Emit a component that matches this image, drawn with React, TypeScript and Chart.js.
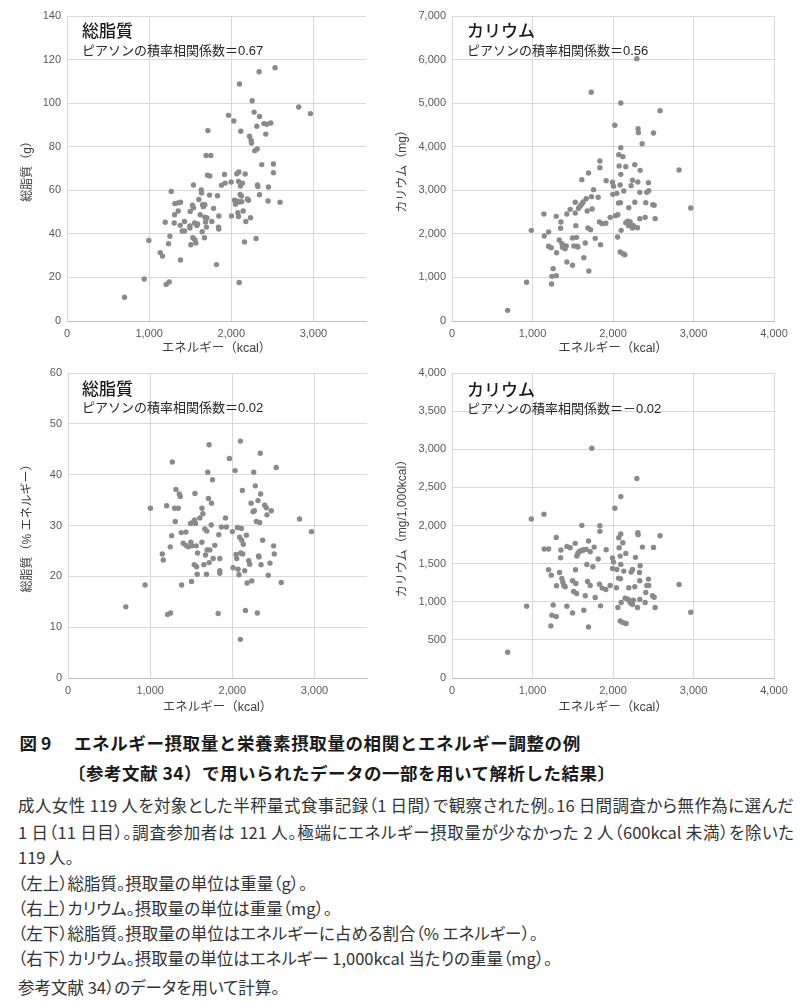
import React, { useEffect, useRef } from "react";
import { Chart, registerables } from "chart.js";

Chart.register(...registerables);

// ---------- data (energy kcal, value) ----------
const fatGrams: [number, number][] = [
  [700, 10.9], [940, 19.3], [997, 37.0], [1135, 31.4], [1163, 29.8], [1196, 45.3], [1207, 16.8], [1244, 17.9],
  [1236, 35.5], [1253, 38.9], [1269, 59.5], [1305, 45.0], [1309, 48.8], [1313, 53.9], [1350, 54.2], [1382, 54.5],
  [1354, 50.5], [1378, 43.9], [1382, 28.0], [1403, 41.3], [1431, 41.3], [1431, 45.7], [1496, 43.6], [1496, 42.7],
  [1500, 50.3], [1508, 35.0], [1528, 53.1], [1540, 62.4], [1540, 52.0], [1532, 38.2], [1557, 37.3], [1569, 35.8],
  [1553, 45.0], [1581, 43.8], [1590, 44.5], [1605, 55.8], [1634, 60.1], [1638, 58.8], [1621, 48.8], [1646, 41.0],
  [1650, 53.4], [1660, 52.5], [1678, 53.4], [1674, 38.2], [1678, 47.6], [1686, 45.4], [1698, 43.1], [1703, 47.3],
  [1694, 76.0], [1715, 87.4], [1711, 66.9], [1739, 66.6], [1751, 76.0], [1735, 57.8], [1763, 45.7], [1784, 51.7],
  [1820, 25.9], [1832, 57.5], [1844, 43.1], [1848, 42.2], [1848, 48.2], [1881, 62.3], [1917, 67.3], [1925, 63.3],
  [1966, 94.4], [1998, 63.8], [2002, 48.2], [2031, 91.8], [2039, 55.4], [2051, 53.6], [2067, 67.6], [2075, 55.0],
  [2080, 49.7], [2088, 48.0], [2092, 68.4], [2088, 64.1], [2096, 17.7], [2100, 108.8], [2100, 54.6], [2108, 58.1],
  [2116, 87.1], [2112, 62.0], [2124, 57.4], [2128, 54.8], [2136, 63.3], [2145, 50.5], [2161, 36.3], [2169, 67.5],
  [2177, 45.7], [2197, 56.0], [2209, 55.4], [2222, 84.8], [2234, 47.4], [2242, 82.9], [2246, 81.7], [2254, 101.1],
  [2278, 95.9], [2286, 78.2], [2302, 37.9], [2315, 79.0], [2311, 89.4], [2319, 62.4], [2323, 61.7], [2339, 114.4],
  [2343, 93.9], [2343, 58.0], [2371, 71.8], [2396, 90.6], [2420, 85.8], [2432, 90.3], [2453, 61.5], [2448, 55.1],
  [2481, 90.9], [2513, 72.1], [2513, 68.1], [2533, 116.3], [2594, 54.5], [2821, 98.2], [2963, 95.2],
];

const potassiumMg: [number, number][] = [
  [691, 245], [927, 888], [985, 2081], [1142, 2456], [1146, 1951], [1200, 2043], [1200, 1714], [1233, 1683],
  [1237, 849], [1241, 1025], [1257, 1201], [1295, 1041], [1295, 2402], [1299, 1568], [1353, 2272], [1349, 2127],
  [1332, 1859], [1365, 1775], [1373, 1691], [1390, 1721], [1406, 1660], [1420, 1720], [1427, 2456], [1427, 1354],
  [1468, 2563], [1497, 1278], [1497, 1905], [1514, 1721], [1531, 2724], [1539, 2188], [1531, 2479], [1547, 1920],
  [1555, 1714], [1564, 1698], [1572, 2586], [1593, 2640], [1613, 2686], [1630, 2731], [1613, 3244], [1638, 1454],
  [1655, 1790], [1680, 2525], [1688, 2135], [1667, 2808], [1696, 3397], [1700, 1148], [1729, 5249], [1721, 2096],
  [1733, 2854], [1741, 2571], [1758, 3015], [1779, 1897], [1816, 2839], [1832, 2272], [1837, 3673], [1837, 3519],
  [1845, 1752], [1866, 2234], [1911, 2242], [1915, 3221], [1965, 2379], [1994, 3183], [1998, 2907], [2006, 3091],
  [2023, 4491], [2031, 2418], [2056, 1928], [2048, 2930], [2060, 2440], [2072, 3818], [2076, 3558], [2068, 2708],
  [2089, 3122], [2093, 2716], [2089, 1584], [2097, 5004], [2097, 3979], [2097, 3366], [2101, 2081], [2122, 3772],
  [2126, 1546], [2134, 2984], [2147, 1523], [2159, 3542], [2159, 2257], [2180, 2250], [2184, 2288], [2196, 2601],
  [2192, 2188], [2213, 2272], [2225, 3106], [2242, 3229], [2242, 2135], [2254, 2188], [2271, 3588], [2271, 2724],
  [2296, 6021], [2304, 2142], [2308, 3190], [2312, 4415], [2316, 4323], [2333, 2953], [2333, 2349], [2337, 3458],
  [2362, 4070], [2399, 2379], [2407, 2716], [2420, 2953], [2440, 3175], [2444, 2992], [2494, 2670], [2503, 4315],
  [2511, 2655], [2523, 2349], [2585, 4828], [2821, 3466], [2966, 2594],
];

const fatPercentEnergy: [number, number][] = [
  [704, 14.0], [938, 18.3], [1003, 33.4], [1148, 24.4], [1160, 23.2], [1201, 33.9], [1213, 12.5], [1249, 12.8],
  [1245, 25.8], [1262, 28.0], [1270, 42.5], [1298, 33.4], [1306, 30.8], [1314, 37.1], [1342, 33.4], [1355, 36.2],
  [1367, 35.7], [1379, 28.6], [1383, 18.3], [1403, 26.5], [1436, 28.7], [1436, 26.1], [1464, 25.8], [1492, 30.4],
  [1496, 26.7], [1504, 19.0], [1508, 26.0], [1524, 30.7], [1541, 31.1], [1545, 36.3], [1537, 22.3], [1553, 30.4],
  [1561, 26.0], [1565, 21.9], [1573, 20.4], [1577, 24.6], [1605, 31.5], [1630, 33.4], [1630, 26.7], [1642, 32.3],
  [1654, 22.3], [1666, 29.3], [1674, 24.2], [1686, 20.4], [1690, 28.9], [1694, 25.2], [1702, 40.5], [1710, 35.3],
  [1718, 45.9], [1718, 22.7], [1727, 25.2], [1743, 30.1], [1747, 34.4], [1759, 39.0], [1767, 23.5], [1787, 26.1],
  [1828, 12.7], [1836, 28.2], [1848, 23.5], [1848, 21.1], [1848, 20.6], [1868, 29.7], [1917, 31.5], [1929, 29.7],
  [1965, 43.2], [2002, 28.8], [2010, 21.7], [2034, 40.8], [2046, 24.3], [2054, 23.5], [2062, 29.6], [2070, 21.4],
  [2082, 20.3], [2090, 27.7], [2099, 46.6], [2099, 7.6], [2103, 24.6], [2111, 29.4], [2115, 27.1], [2123, 36.9],
  [2127, 24.4], [2135, 26.3], [2151, 21.1], [2160, 13.3], [2172, 28.1], [2180, 18.7], [2200, 23.1], [2212, 22.4],
  [2229, 34.4], [2237, 19.1], [2253, 32.7], [2261, 40.5], [2269, 32.9], [2281, 37.8], [2293, 30.8], [2305, 12.8],
  [2313, 34.9], [2321, 24.0], [2325, 23.8], [2334, 30.6], [2341, 44.2], [2345, 36.2], [2350, 22.3], [2370, 27.1],
  [2394, 34.0], [2414, 33.5], [2422, 32.1], [2438, 20.2], [2459, 22.6], [2475, 32.9], [2503, 26.0], [2511, 24.4],
  [2535, 41.4], [2596, 18.8], [2818, 31.3], [2964, 28.8],
];

const potassiumPer1000: [number, number][] = [
  [691, 337], [927, 942], [985, 2085], [1142, 2147], [1146, 1691], [1200, 1691], [1200, 1420], [1233, 1349],
  [1228, 683], [1241, 824], [1257, 959], [1295, 806], [1295, 1844], [1299, 1209], [1353, 1678], [1349, 1577],
  [1336, 1384], [1365, 1306], [1377, 1257], [1390, 1214], [1406, 1196], [1427, 1726], [1427, 942], [1468, 1709],
  [1497, 854], [1497, 1275], [1510, 1135], [1531, 1766], [1539, 1240], [1535, 1420], [1547, 1108], [1551, 1599],
  [1564, 1634], [1580, 1660], [1605, 1669], [1621, 1678], [1638, 1678], [1613, 2002], [1638, 889], [1655, 1078],
  [1675, 1490], [1684, 1266], [1667, 1687], [1696, 1796], [1696, 670], [1737, 3014], [1717, 1214], [1717, 1656],
  [1750, 1459], [1766, 1717], [1779, 1056], [1816, 1560], [1832, 1231], [1837, 1998], [1837, 1923], [1845, 946],
  [1866, 1179], [1911, 1161], [1915, 1682], [1965, 1214], [1994, 1573], [1994, 1437], [2006, 1520], [2023, 2226],
  [2043, 1183], [2060, 924], [2048, 1424], [2072, 1840], [2076, 1709], [2068, 1310], [2089, 1599], [2093, 1301],
  [2089, 749], [2097, 2379], [2097, 1888], [2097, 1490], [2101, 990], [2122, 1774], [2122, 727], [2134, 1402],
  [2163, 714], [2159, 1634], [2151, 1047], [2184, 1034], [2196, 1183], [2192, 1025], [2213, 986], [2225, 1389],
  [2242, 1424], [2242, 964], [2254, 1021], [2279, 1582], [2271, 1196], [2296, 2616], [2304, 924], [2308, 1906],
  [2312, 1880], [2329, 1384], [2333, 1030], [2333, 1275], [2337, 1472], [2366, 1717], [2399, 990], [2407, 1122],
  [2420, 1214], [2440, 1297], [2444, 1214], [2490, 1078], [2503, 1713], [2511, 1060], [2523, 924], [2585, 1866],
  [2821, 1227], [2966, 863],
];

// tick values
const xTicksShort = [0, 1000, 2000, 3000];
const xTicksLong = [0, 1000, 2000, 3000, 4000];

const xTitle = "エネルギー（kcal）";
const panelTitles = ["総脂質", "カリウム", "総脂質", "カリウム"];
const pearsonLabels = [
  "ピアソンの積率相関係数＝0.67",
  "ピアソンの積率相関係数＝0.56",
  "ピアソンの積率相関係数＝0.02",
  "ピアソンの積率相関係数＝－0.02",
];
const yTitles = ["総脂質（g）", "カリウム（mg）", "総脂質（% エネルギー）", "カリウム（mg/1,000kcal）"];

const captionTitle1a = "図 9";
const captionTitle1b = "エネルギー摂取量と栄養素摂取量の相関とエネルギー調整の例";
const captionTitle2 = "〔参考文献 34）で用いられたデータの一部を用いて解析した結果〕";
const captionLines = [
  "成人女性 119 人を対象とした半秤量式食事記録（1 日間）で観察された例。16 日間調査から無作為に選んだ",
  "1 日（11 日目）。調査参加者は 121 人。極端にエネルギー摂取量が少なかった 2 人（600kcal 未満）を除いた",
  "119 人。",
  "（左上）総脂質。摂取量の単位は重量（g）。",
  "（右上）カリウム。摂取量の単位は重量（mg）。",
  "（左下）総脂質。摂取量の単位はエネルギーに占める割合（% エネルギー）。",
  "（右下）カリウム。摂取量の単位はエネルギー 1,000kcal 当たりの重量（mg）。",
  "参考文献 34）のデータを用いて計算。",
];

const FONT = "'Liberation Sans', 'Noto Sans CJK JP', sans-serif";
const JP = "'Noto Sans CJK JP', 'Liberation Sans', sans-serif";

type PanelSpec = {
  pts: [number, number][];
  xMax: number;
  xTicks: number[];
  yMax: number;
  yStep: number;
  yTitle: string;
  left: number;
  top: number;
  w: number;
  h: number;
  yW: number;
  xH: number;
  padTop: number;
  padRight: number;
  yTitlePad: number;
  xTitlePad: number;
};

const panels: PanelSpec[] = [
  { pts: fatGrams, xMax: 3640, xTicks: xTicksShort, yMax: 140, yStep: 20, yTitle: yTitles[0], left: 0, top: 0, w: 400, h: 360, yW: 67, xH: 39, padTop: 16, padRight: 34, yTitlePad: 20, xTitlePad: 3.5 },
  { pts: potassiumMg, xMax: 4000, xTicks: xTicksLong, yMax: 7000, yStep: 1000, yTitle: yTitles[1], left: 390, top: 0, w: 410, h: 360, yW: 62, xH: 39, padTop: 16, padRight: 26, yTitlePad: 5, xTitlePad: 3.5 },
  { pts: fatPercentEnergy, xMax: 3640, xTicks: xTicksShort, yMax: 60, yStep: 10, yTitle: yTitles[2], left: 0, top: 360, w: 400, h: 360, yW: 68, xH: 42, padTop: 13, padRight: 33, yTitlePad: 20, xTitlePad: 4.5 },
  { pts: potassiumPer1000, xMax: 4000, xTicks: xTicksLong, yMax: 4000, yStep: 500, yTitle: yTitles[3], left: 390, top: 360, w: 410, h: 360, yW: 62, xH: 42, padTop: 13, padRight: 26, yTitlePad: 5, xTitlePad: 4.5 },
];

const tickColor = "#595959";
const fmt = (v: any) => Number(v).toLocaleString("en-US");

function Panel({ spec }: { spec: PanelSpec }) {
  const ref = useRef<HTMLCanvasElement | null>(null);
  useEffect(() => {
    if (!ref.current) return;
    const chart = new Chart(ref.current, {
      type: "scatter",
      data: {
        datasets: [
          {
            data: spec.pts.map(([x, y]) => ({ x, y })),
            pointRadius: 2.7,
            pointHoverRadius: 2.7,
            backgroundColor: "#8a8a8a",
            borderWidth: 0,
          },
        ],
      },
      options: {
        animation: false,
        responsive: false,
        maintainAspectRatio: false,
        events: [],
        layout: { padding: { left: 0, top: spec.padTop, right: spec.padRight, bottom: 0 } },
        plugins: { legend: { display: false }, tooltip: { enabled: false } },
        scales: {
          x: {
            type: "linear",
            min: 0,
            max: spec.xMax,
            afterBuildTicks: (s: any) => {
              s.ticks = spec.xTicks.map((v) => ({ value: v }));
            },
            afterFit: (s: any) => {
              s.height = spec.xH;
            },
            ticks: {
              padding: 6,
              color: tickColor,
              font: { family: FONT, size: 11 },
              callback: fmt,
              maxRotation: 0,
              autoSkip: false,
            },
            grid: { color: "#d9d9d9", drawTicks: false, lineWidth: 1 },
            border: { color: "#bfbfbf" },
            title: {
              display: true,
              text: xTitle,
              color: "#404040",
              font: { family: FONT, size: 12.5 },
              padding: { top: 0, bottom: spec.xTitlePad },
            },
          },
          y: {
            type: "linear",
            min: 0,
            max: spec.yMax,
            afterFit: (s: any) => {
              s.width = spec.yW;
            },
            ticks: {
              stepSize: spec.yStep,
              padding: 6,
              color: tickColor,
              font: { family: FONT, size: 11 },
              callback: fmt,
              autoSkip: false,
            },
            grid: { color: "#d9d9d9", drawTicks: false, lineWidth: 1 },
            border: { color: "#d9d9d9" },
            title: {
              display: true,
              text: spec.yTitle,
              color: "#404040",
              font: { family: FONT, size: 12 },
              padding: { top: spec.yTitlePad, bottom: 0 },
            },
          },
        },
      },
    } as any);
    return () => chart.destroy();
  }, [spec]);
  return (
    <canvas
      ref={ref}
      width={spec.w}
      height={spec.h}
      style={{ position: "absolute", left: spec.left, top: spec.top, width: spec.w, height: spec.h }}
    />
  );
}

const titlePos = [
  { x: 82, y1: 29, y2: 50 },
  { x: 467, y1: 29, y2: 50 },
  { x: 82, y1: 387, y2: 407 },
  { x: 467, y1: 388, y2: 408 },
];

function Abs({ x, cy, size, children, style }: any) {
  return (
    <div
      style={{
        position: "absolute",
        left: x,
        top: cy - size / 2,
        fontSize: size,
        lineHeight: `${size}px`,
        whiteSpace: "nowrap",
        ...style,
      }}
    >
      {children}
    </div>
  );
}

const bodyCenters = [805, 832, 857, 883, 908, 933, 958, 987];

export default function App() {
  return (
    <div
      style={{
        position: "absolute",
        left: 0,
        top: 0,
        width: 800,
        height: 1002,
        background: "#fff",
        overflow: "hidden",
        fontFamily: JP,
      }}
    >
      {panels.map((p, i) => (
        <Panel key={i} spec={p} />
      ))}
      {titlePos.map((t, i) => (
        <React.Fragment key={i}>
          <Abs x={t.x} cy={t.y1} size={17} style={{ color: "#1a1a1a", fontWeight: 500 }}>
            {panelTitles[i]}
          </Abs>
          <Abs x={t.x} cy={t.y2} size={13} style={{ color: "#262626", fontFamily: FONT }}>
            {pearsonLabels[i]}
          </Abs>
        </React.Fragment>
      ))}
      <Abs x={19.5} cy={743} size={17.5} style={{ fontWeight: 700, color: "#1a1a1a" }}>
        {captionTitle1a}
      </Abs>
      <Abs x={74} cy={743} size={17.5} style={{ fontWeight: 700, color: "#1a1a1a", letterSpacing: 0.6 }}>
        {captionTitle1b}
      </Abs>
      <Abs x={68} cy={773} size={17.5} style={{ fontWeight: 700, color: "#1a1a1a", letterSpacing: 0.5 }}>
        {captionTitle2}
      </Abs>
      {captionLines.map((line, i) => (
        <Abs
          key={i}
          x={18}
          cy={bodyCenters[i]}
          size={16.5}
          style={{
            color: "#333",
            fontFeatureSettings: '"palt"',
            ...(i < 2 ? { width: 776, textAlign: "justify", textAlignLast: "justify", whiteSpace: "normal" } : {}),
          }}
        >
          {line}
        </Abs>
      ))}
    </div>
  );
}
